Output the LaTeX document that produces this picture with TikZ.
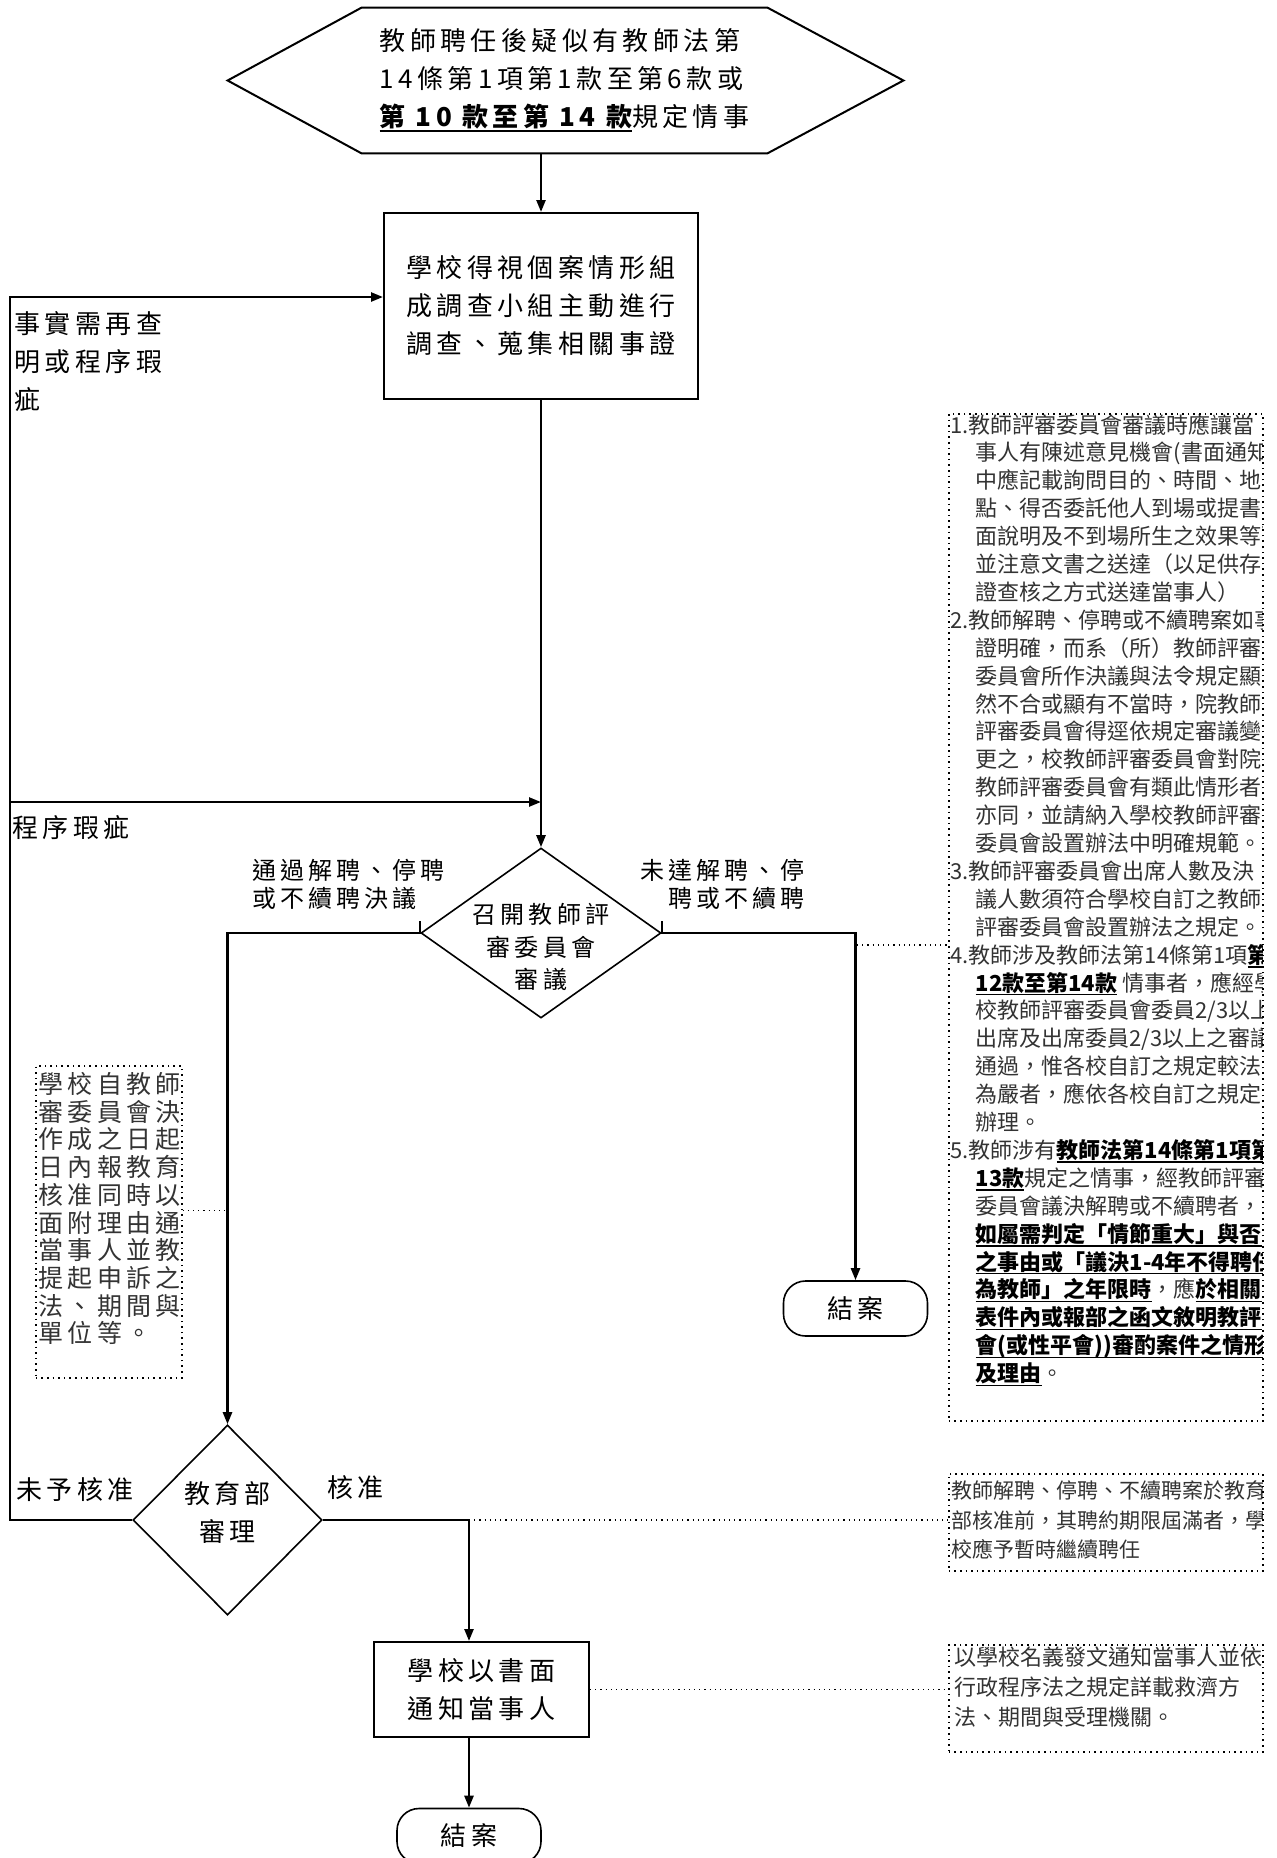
\documentclass[tikz,border=0pt]{standalone}
\usepackage{fontspec}
\setmainfont{Noto Sans CJK TC}
\newfontfamily\spacedcjk{Noto Sans CJK TC}[LetterSpace=17]
\usetikzlibrary{arrows.meta,shapes.geometric}
\newcommand\ulb[1]{{\color{black}\setbox0\hbox{\bfseries#1}\rlap{\rule[-0.2em]{\wd0}{0.07em}}\box0}}
\newcommand\ind{\hspace*{12.5pt}}

\begin{document}
\begin{tikzpicture}[x=0.5pt,y=-0.5pt,
    txt/.style={font={\spacedcjk\fontsize{13pt}{19pt}\selectfont}, align=left, inner sep=0pt},
    small/.style={font={\spacedcjk\fontsize{12pt}{14pt}\selectfont}, align=left, inner sep=0pt},
    box/.style={draw, line width=1pt},
    decision/.style={draw, diamond, line width=0.8pt, inner sep=0pt},
    terminal/.style={draw, line width=0.8pt, rounded corners=11pt, minimum width=72pt, minimum height=27.5pt},
    note/.style={draw, dotted, line width=0.8pt, anchor=north west, minimum width=157pt},
    notetxt/.style={font={\fontsize{11pt}{13.95pt}\selectfont}, text=black!80, align=left, inner sep=0pt, anchor=north west},
    conn/.style={line width=1.2pt, -{Triangle[length=6pt,width=4.5pt]}},
    dotline/.style={line width=0.6pt, dotted}]
    \useasboundingbox (0,0) rectangle (1277,1858);
	\coordinate (axis) at (541,0);
	\coordinate (axis2) at (469,0);
	\coordinate (loopx) at (10,0);

	% flow
	\node [txt, minimum width=202.5pt, minimum height=72.5pt] (start) at (564.5,80.5) {教師聘任後疑似有教師法第\\14條第1項第1款至第6款或\\\ulb{第 10 款至第 14 款}規定情事};
	\draw [line width=1pt] (start.north west) -- (start.north east) -- ([xshift=68pt]start.east) -- (start.south east) -- (start.south west) -- ([xshift=-67pt]start.west) -- cycle;
	\node [box, txt, minimum width=157pt, minimum height=93pt] (inv) at (541,306) {學校得視個案情形組\\成調查小組主動進行\\調查、蒐集相關事證};
	\node [decision, minimum width=120pt, minimum height=85pt] (meet) at (541,933) {};
	\node [small, align=center, font={\spacedcjk\fontsize{12pt}{16.25pt}\selectfont}] (meettxt) at (541,947) {召開教師評\\審委員會\\審議};
	\node [decision, minimum width=94.5pt, minimum height=95pt] (moe) at (227.5,1520) {};
	\node [txt, align=center] (moetxt) at (227.5,1512) {教育部\\審理};
	\node [box, txt, align=center, minimum width=107.5pt, minimum height=47.5pt] (notify) at (481.5,1689.5) {學校以書面\\通知當事人};
	\node [terminal, txt] (end1) at (855.5,1308.5) {結案};
	\node [terminal, txt] (end2) at (469,1836) {結案};

	% branch labels
	\node [txt, anchor=north west] (fact) at (14,311) {事實需再查\\明或程序瑕\\疵};
	\node [txt, anchor=west] (proc) at (12,828) {程序瑕疵};
	\node [small, anchor=north west] (pass) at (252,859) {通過解聘、停聘\\或不續聘決議};
	\node [small, anchor=north east, align=right] (fail) at (805,859) {未達解聘、停\\聘或不續聘};
	\node [txt, anchor=west] (reject) at (16,1490) {未予核准};
	\node [txt, anchor=west] (approve) at (327,1488) {核准};

	% notes
	\node [note, minimum height=503.5pt, path picture={
	  \node [notetxt] at ([xshift=0.5pt, yshift=9pt]path picture bounding box.north west) {1.教師評審委員會審議時應讓當\\
	  \ind 事人有陳述意見機會(書面通知\\
	  \ind 中應記載詢問目的、時間、地\\
	  \ind 點、得否委託他人到場或提書\\
	  \ind 面說明及不到場所生之效果等)\\
	  \ind 並注意文書之送達（以足供存\\
	  \ind 證查核之方式送達當事人）\\
	  2.教師解聘、停聘或不續聘案如事\\
	  \ind 證明確，而系（所）教師評審\\
	  \ind 委員會所作決議與法令規定顯\\
	  \ind 然不合或顯有不當時，院教師\\
	  \ind 評審委員會得逕依規定審議變\\
	  \ind 更之，校教師評審委員會對院\\
	  \ind 教師評審委員會有類此情形者\\
	  \ind 亦同，並請納入學校教師評審\\
	  \ind 委員會設置辦法中明確規範。\\
	  3.教師評審委員會出席人數及決\\
	  \ind 議人數須符合學校自訂之教師\\
	  \ind 評審委員會設置辦法之規定。\\
	  4.教師涉及教師法第14條第1項\ulb{第}\\
	  \ind \ulb{12款至第14款} 情事者，應經學\\
	  \ind 校教師評審委員會委員2/3以上\\
	  \ind 出席及出席委員2/3以上之審議\\
	  \ind 通過，惟各校自訂之規定較法\\
	  \ind 為嚴者，應依各校自訂之規定\\
	  \ind 辦理。\\
	  5.教師涉有\ulb{教師法第14條第1項第}\\
	  \ind \ulb{13款}規定之情事，經教師評審\\
	  \ind 委員會議決解聘或不續聘者，\\
	  \ind \ulb{如屬需判定「情節重大」與否}\\
	  \ind \ulb{之事由或「議決1-4年不得聘任}\\
	  \ind \ulb{為教師」之年限時}，應\ulb{於相關}\\
	  \ind \ulb{表件內或報部之函文敘明教評}\\
	  \ind \ulb{會(或性平會))審酌案件之情形}\\
	  \ind \ulb{及理由}。};}] (note1) at (948,413) {};
	\node [note, minimum width=73pt, minimum height=156pt, path picture={
	  \node [notetxt, font={\spacedcjk\fontsize{12.5pt}{13.85pt}\selectfont}] at ([xshift=1pt, yshift=7pt]path picture bounding box.north west) {學校自教師評\\審委員會決議\\作成之日起 10\\日內報教育部\\核准同時以書\\面附理由通知\\當事人並教示\\提起申訴之方\\法、期間與受理\\單位等。};}] (lnote) at (35,1065) {};
	\node [note, minimum height=48.5pt, path picture={
	  \node [notetxt, font={\fontsize{10.5pt}{14.75pt}\selectfont}] at ([xshift=1pt, yshift=1.5pt]path picture bounding box.north west) {教師解聘、停聘、不續聘案於教育\\部核准前，其聘約期限屆滿者，學\\校應予暫時繼續聘任};}] (note2) at (948,1473) {};
	\node [note, minimum height=53.5pt, path picture={
	  \node [notetxt, font={\fontsize{11pt}{15pt}\selectfont}] at ([xshift=1pt, yshift=6pt]path picture bounding box.north west) {以學校名義發文通知當事人並依\\行政程序法之規定詳載救濟方\\法、期間與受理機關。};}] (note3) at (948,1644) {};

	% connectors
	\draw [conn] (start.south -| axis) -- (inv.north);
	\draw [conn] (inv.south) -- (meet.north);
	\draw [conn] (moe.west) -- (moe.west -| loopx) |- ([yshift=4.5pt]inv.west);
	\coordinate (procy) at (10,802);
	\draw [conn] (procy) -- (procy -| axis);
	\draw [conn] ([yshift=6pt]meet.west) -- (meet.west) -| (moe.north);
	\draw [conn] ([yshift=6pt]meet.east) -- (meet.east) -| (end1.north);
	\coordinate (d1) at (857,945);
	\draw [dotline] (d1) -- (d1 -| note1.west);
	\coordinate (d2) at ([yshift=5.5pt]lnote.east);
	\draw [dotline] (d2) -- (d2 -| moe.north);
	\draw [conn] (moe.east) -| (notify.north -| axis2);
	\draw [dotline] (moe.east -| axis2) -- (moe.east -| note2.west);
	\draw [dotline] (notify.east) -- (notify.east -| note3.west);
	\draw [conn] (notify.south -| axis2) -- (end2.north);
\end{tikzpicture}
\end{document}
